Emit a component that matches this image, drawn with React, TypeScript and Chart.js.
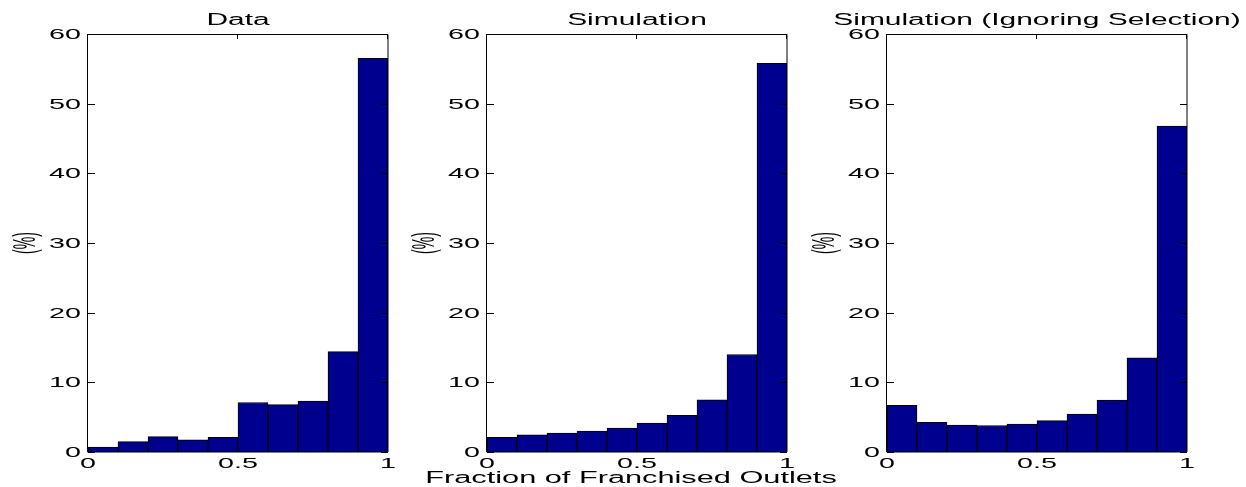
import React, { useEffect, useRef } from "react";
import { Chart, registerables } from "chart.js";

Chart.register(...registerables);

// ---- data ----
const binCenters = [0.05, 0.15, 0.25, 0.35, 0.45, 0.55, 0.65, 0.75, 0.85, 0.95];
const dataPct = [0.7, 1.5, 2.2, 1.75, 2.1, 7.1, 6.8, 7.3, 14.4, 56.5];
const simPct = [2.1, 2.45, 2.7, 3.0, 3.45, 4.15, 5.25, 7.5, 14.0, 55.8];
const simNoSelPct = [6.7, 4.25, 3.85, 3.8, 4.0, 4.5, 5.45, 7.45, 13.5, 46.8];
const panelTitles = ["Data", "Simulation", "Simulation (Ignoring Selection)"];
const yTickValues = [0, 10, 20, 30, 40, 50, 60];
const yTickLabels = ["0", "10", "20", "30", "40", "50", "60"];
const xTickValues = [0, 0.5, 1];
const xTickLabels = ["0", "0.5", "1"];
const xAxisLabel = "Fraction of Franchised Outlets";
const yAxisLabel = "(%)";

const W = 1246;
const H = 487;
const PLOT_W = 300;
const PLOT_TOP = 34;
const PLOT_BOTTOM = 452;
const panelLefts = [88, 487, 887];
const FONT = '"Liberation Sans", Arial, Helvetica, sans-serif';
const BAR_COLOR = "#00008F";

function drawStretched(
  ctx: CanvasRenderingContext2D,
  text: string,
  x: number,
  y: number,
  size: number,
  sx: number,
  align: CanvasTextAlign,
  baseline: CanvasTextBaseline,
  rotate = false
) {
  ctx.save();
  ctx.translate(x, y);
  ctx.scale(sx, 1);
  if (rotate) ctx.rotate(-Math.PI / 2);
  ctx.font = `${size}px ${FONT}`;
  ctx.textAlign = align;
  ctx.textBaseline = baseline;
  ctx.fillStyle = "#000";
  ctx.fillText(text, 0, 0);
  ctx.restore();
}

function makeFramePlugin(title: string, showXLabel: boolean) {
  return {
    id: "matlabFrame",
    afterDraw(chart: any) {
      const ctx: CanvasRenderingContext2D = chart.ctx;
      const { left, right, top, bottom } = chart.chartArea;
      const xs = chart.scales.x;
      const ys = chart.scales.y;
      ctx.save();
      ctx.strokeStyle = "#000";
      ctx.lineWidth = 1;
      // box
      ctx.beginPath();
      ctx.rect(left - 0.5, top + 0.5, right - left + 0.5, bottom - top - 0.5);
      ctx.stroke();
      // ticks (inside, all four sides)
      ctx.beginPath();
      yTickValues.forEach((v) => {
        const py = Math.round(ys.getPixelForValue(v)) + 0.5;
        ctx.moveTo(left, py);
        ctx.lineTo(left + 7, py);
        ctx.moveTo(right, py);
        ctx.lineTo(right - 7, py);
      });
      xTickValues.forEach((v) => {
        const px = Math.round(xs.getPixelForValue(v)) - 0.5;
        ctx.moveTo(px, bottom);
        ctx.lineTo(px, bottom - 5);
        ctx.moveTo(px, top);
        ctx.lineTo(px, top + 5);
      });
      ctx.stroke();
      ctx.restore();

      // tick labels
      yTickValues.forEach((v, i) => {
        const py = ys.getPixelForValue(v);
        drawStretched(ctx, yTickLabels[i], left - 7, py + 5, 14, 2.05, "right", "alphabetic");
      });
      xTickValues.forEach((v, i) => {
        const px = xs.getPixelForValue(v);
        drawStretched(ctx, xTickLabels[i], px, bottom + 16, 14, 2.05, "center", "alphabetic");
      });

      // title
      drawStretched(ctx, title, (left + right) / 2, 25, 16, 1.87, "center", "alphabetic");
      // y label
      drawStretched(ctx, yAxisLabel, left - 62, (top + bottom) / 2, 14, 2.25, "center", "middle", true);
      // x label
      if (showXLabel) {
        drawStretched(ctx, xAxisLabel, (left + right) / 2 - 6, 483, 16, 1.92, "center", "alphabetic");
      }
    },
  };
}

function Panel({ index, values }: { index: number; values: number[] }) {
  const ref = useRef<HTMLCanvasElement | null>(null);
  useEffect(() => {
    if (!ref.current) return;
    const left = panelLefts[index];
    const chart = new Chart(ref.current, {
      type: "bar",
      data: {
        datasets: [
          {
            data: binCenters.map((x, i) => ({ x, y: values[i] })),
            backgroundColor: BAR_COLOR,
            borderColor: "#000",
            borderWidth: 1,
            borderSkipped: "start",
            barPercentage: 1,
            categoryPercentage: 1,
          } as any,
        ],
      },
      options: {
        animation: false,
        responsive: false,
        maintainAspectRatio: false,
        devicePixelRatio: 1,
        events: [],
        layout: {
          padding: {
            left,
            right: W - (left + PLOT_W),
            top: PLOT_TOP,
            bottom: H - PLOT_BOTTOM,
          },
        },
        plugins: {
          legend: { display: false },
          tooltip: { enabled: false },
          title: { display: false },
        },
        scales: {
          x: {
            type: "linear",
            min: 0,
            max: 1,
            offset: false,
            display: false,
            ticks: { stepSize: 0.5 },
          },
          y: {
            type: "linear",
            min: 0,
            max: 60,
            display: false,
            ticks: { stepSize: 10 },
          },
        },
      } as any,
      plugins: [makeFramePlugin(panelTitles[index], index === 1)],
    });
    return () => chart.destroy();
  }, [index, values]);
  return (
    <canvas
      ref={ref}
      width={W}
      height={H}
      style={{ position: "absolute", left: 0, top: 0, width: W, height: H }}
    />
  );
}

export default function App() {
  return (
    <div
      style={{
        position: "fixed",
        left: 0,
        top: 0,
        width: W,
        height: H,
        background: "#fff",
        overflow: "hidden",
      }}
    >
      <Panel index={0} values={dataPct} />
      <Panel index={1} values={simPct} />
      <Panel index={2} values={simNoSelPct} />
    </div>
  );
}
